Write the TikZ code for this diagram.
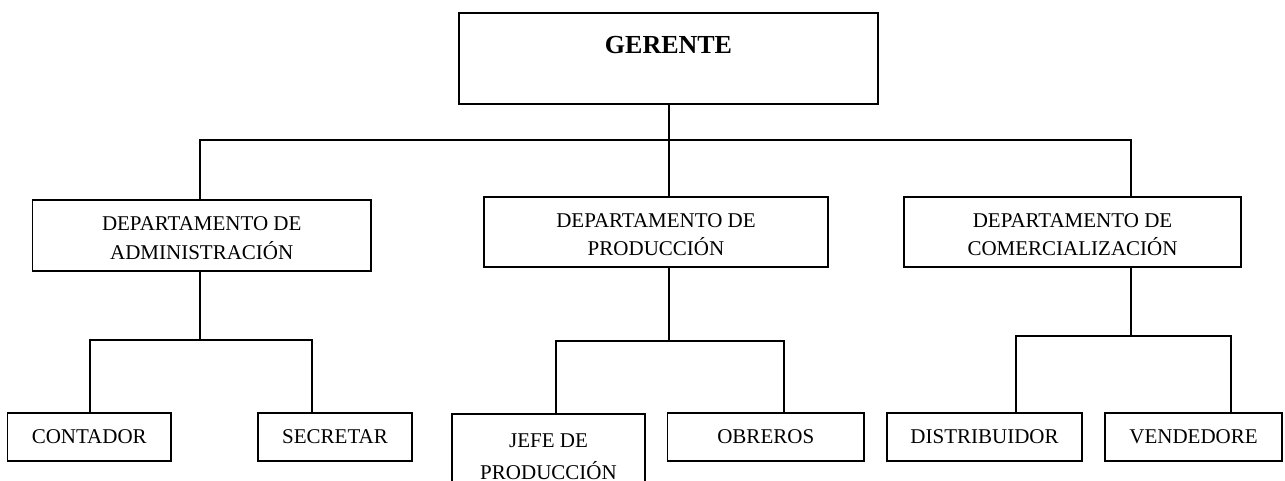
\documentclass[tikz,border=0pt]{standalone}
\usepackage{fontspec}
\setmainfont{Liberation Serif}
\newcommand\upstrut{\rule{0pt}{19pt}}
\begin{document}
\begin{tikzpicture}[x=1pt,y=-1pt,
  box/.style={draw,line width=1.5pt,inner sep=0pt,align=center,font=\fontsize{21}{28.5}\selectfont},
  link/.style={line width=1.5pt}]
\useasboundingbox (0,0) rectangle (1285,480);
\clip (0,0) rectangle (1285,480);
% top
\node[box,minimum width=419pt,minimum height=91pt,text height=40.3pt,text depth=50.7pt,
  font=\fontsize{26}{30}\selectfont\bfseries] (ger) at (668.5,58.35) {GERENTE};
% departments
\node[box,minimum width=338.5pt,minimum height=71pt] (adm) at (201.75,235.5) {\upstrut DEPARTAMENTO DE\\ADMINISTRACIÓN};
\node[box,minimum width=344pt,minimum height=70pt] (prod) at (656,232) {\upstrut DEPARTAMENTO DE\\PRODUCCIÓN};
\node[box,minimum width=337pt,minimum height=70pt] (com) at (1072.5,232) {\upstrut DEPARTAMENTO DE\\COMERCIALIZACIÓN};
% bottom row
\node[box,minimum width=163.5pt,minimum height=48pt] (cont) at (89.25,437) {CONTADOR};
\node[box,minimum width=154pt,minimum height=48pt] (sec) at (335,437) {SECRETAR};
\node[box,minimum width=193pt,anchor=north,inner ysep=20pt,font=\fontsize{21}{31.5}\selectfont] (jefe) at (548.5,413) {JEFE DE\\PRODUCCIÓN};
\node[box,minimum width=196.5pt,minimum height=48pt] (obr) at (765.75,437) {OBREROS};
\node[box,minimum width=195pt,minimum height=48pt] (dist) at (984.5,437) {DISTRIBUIDOR};
\node[box,minimum width=177pt,minimum height=48pt] (ven) at (1193.5,437) {VENDEDORE};
% first level connectors
\coordinate (t1) at (200,140);
\coordinate (t2) at (669,140);
\coordinate (t3) at (1131,140);
\draw[link] (ger.south -| t2) -- (t2);
\draw[link] (adm.north -| t1) -- (t1) -- (t3) -- (com.north -| t3);
\draw[link] (t2) -- (prod.north -| t2);
% administration
\coordinate (a0) at (200,340);
\coordinate (a1) at (90,340);
\coordinate (a2) at (312,340);
\draw[link] (adm.south -| a0) -- (a0);
\draw[link] (cont.north -| a1) -- (a1) -- (a2) -- (sec.north -| a2);
% production
\coordinate (p0) at (669,341);
\coordinate (p1) at (556,341);
\coordinate (p2) at (784,341);
\draw[link] (prod.south -| p0) -- (p0);
\draw[link] (jefe.north -| p1) -- (p1) -- (p2) -- (obr.north -| p2);
% commercial
\coordinate (c0) at (1131,336);
\coordinate (c1) at (1016,336);
\coordinate (c2) at (1231,336);
\draw[link] (com.south -| c0) -- (c0);
\draw[link] (dist.north -| c1) -- (c1) -- (c2) -- (ven.north -| c2);
\end{tikzpicture}
\end{document}
